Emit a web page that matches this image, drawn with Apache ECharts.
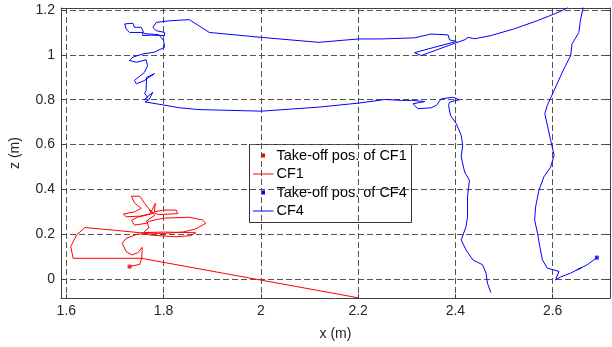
<!DOCTYPE html>
<html>
<head>
<meta charset="utf-8">
<script src="https://cdn.jsdelivr.net/npm/echarts@6.0.0/dist/echarts.min.js"></script>
<style>
  html,body{margin:0;padding:0;background:#fff}
  #chart{width:612px;height:347px}
</style>
</head>
<body>
<div id="chart"></div>
<script>
// === Datos (x, z en metros) ===
const X_TICKS = [1.6, 1.8, 2.0, 2.2, 2.4, 2.6];
const Z_TICKS = [0, 0.2, 0.4, 0.6, 0.8, 1.0, 1.2];
const X_RANGE = [1.589, 2.718];
const Z_RANGE = [-0.084, 1.209];

const CF1_TAKEOFF = [[1.730, 0.056]];
const CF4_TAKEOFF = [[2.691, 0.096]];

const CF1_PATH = [
  [1.730,0.056],[1.751,0.066],[1.755,0.095],[1.756,0.142],[1.747,0.118],[1.735,0.108],
  [1.723,0.123],[1.715,0.160],[1.723,0.182],[1.745,0.200],[1.770,0.205],[1.800,0.204],
  [1.840,0.210],[1.866,0.224],[1.887,0.249],[1.880,0.264],[1.853,0.276],[1.800,0.272],
  [1.770,0.258],[1.764,0.249],[1.740,0.241],[1.734,0.262],[1.745,0.275],[1.772,0.290],
  [1.783,0.338],[1.781,0.300],[1.798,0.308],[1.826,0.308],[1.829,0.292],[1.790,0.288],
  [1.775,0.300],[1.761,0.338],[1.751,0.370],[1.734,0.370],[1.740,0.340],[1.754,0.316],
  [1.740,0.300],[1.717,0.290],[1.723,0.278],[1.751,0.281],[1.778,0.293],[1.770,0.310],
  [1.782,0.285],[1.765,0.260],[1.770,0.230],[1.760,0.212],[1.770,0.197],[1.826,0.189],
  [1.856,0.194],[1.866,0.207],[1.800,0.210],[1.751,0.207],[1.700,0.218],[1.638,0.230],
  [1.621,0.197],[1.609,0.145],[1.614,0.093],[1.754,0.093],[2.200,-0.083]
];

const CF4_PATH = [
  [2.691,0.096],[2.671,0.064],[2.650,0.041],[2.660,0.052],[2.637,0.027],[2.616,0.009],
  [2.606,-0.003],[2.613,0.034],[2.603,0.041],[2.589,0.049],[2.579,0.086],[2.575,0.130],
  [2.569,0.204],[2.563,0.264],[2.565,0.323],[2.572,0.397],[2.582,0.456],[2.596,0.500],
  [2.603,0.552],[2.596,0.619],[2.590,0.678],[2.584,0.738],[2.589,0.775],[2.603,0.841],
  [2.620,0.923],[2.637,0.997],[2.640,1.049],[2.654,1.100],[2.657,1.152],[2.662,1.204],
  [2.664,1.230],[2.640,1.232],[2.628,1.206],[2.603,1.182],[2.568,1.152],[2.521,1.116],
  [2.473,1.086],[2.440,1.072],[2.426,1.078],[2.420,1.068],[2.385,1.041],[2.330,0.997],
  [2.316,1.010],[2.402,1.060],[2.405,1.067],[2.388,1.067],[2.385,1.089],[2.350,1.093],
  [2.316,1.076],[2.248,1.071],[2.201,1.071],[2.119,1.056],[2.001,1.078],[1.894,1.100],
  [1.853,1.157],[1.812,1.152],[1.785,1.145],[1.778,1.123],[1.785,1.108],[1.802,1.100],
  [1.802,1.086],[1.775,1.088],[1.757,1.086],[1.757,1.100],[1.730,1.100],[1.723,1.116],
  [1.720,1.138],[1.737,1.141],[1.740,1.123],[1.754,1.123],[1.760,1.095],[1.790,1.090],
  [1.800,1.064],[1.802,1.034],[1.781,1.012],[1.757,1.004],[1.737,0.990],[1.730,0.975],
  [1.744,0.967],[1.764,0.978],[1.767,0.952],[1.761,0.923],[1.740,0.886],[1.744,0.871],
  [1.760,0.885],[1.781,0.916],[1.765,0.900],[1.764,0.841],[1.761,0.827],[1.767,0.812],
  [1.760,0.800],[1.778,0.834],[1.770,0.800],[1.762,0.790],[1.785,0.782],[1.833,0.764],
  [1.873,0.756],[2.001,0.749],[2.119,0.767],[2.201,0.785],[2.255,0.801],[2.289,0.797],
  [2.310,0.797],[2.337,0.792],[2.313,0.782],[2.323,0.760],[2.350,0.764],[2.361,0.775],
  [2.371,0.804],[2.395,0.811],[2.408,0.800],[2.388,0.789],[2.386,0.775],[2.390,0.730],
  [2.402,0.693],[2.412,0.641],[2.415,0.597],[2.412,0.545],[2.419,0.478],[2.429,0.441],
  [2.425,0.367],[2.425,0.278],[2.422,0.234],[2.412,0.175],[2.422,0.130],[2.436,0.086],
  [2.456,0.064],[2.463,0.027],[2.466,-0.018],[2.473,-0.060]
];

const LEGEND = ['Take-off pos. of CF1', 'CF1', 'Take-off pos. of CF4', 'CF4'];

// === Estilo ===
const red = '#ff0000', blue = '#0000ff', axisC = '#404040', gridC = '#555555';
const FONT = '"Liberation Sans", Arial, sans-serif';
const fmt = v => String(+(+v).toFixed(1));

const mainX = {
  type:'value', min:X_RANGE[0], max:X_RANGE[1], position:'bottom',
  name:'x (m)', nameLocation:'middle', nameGap:29,
  nameTextStyle:{ color:'#262626', fontSize:14, fontFamily:FONT },
  axisLine:{ show:true, onZero:false, lineStyle:{ color:axisC } },
  axisTick:{ show:true, inside:true, length:4, customValues:X_TICKS, lineStyle:{ color:axisC } },
  axisLabel:{ customValues:X_TICKS, formatter:fmt, color:'#262626', fontSize:14, fontFamily:FONT, margin:6 },
  splitLine:{ show:true, lineStyle:{ color:gridC, type:[6,3], width:1 } }
};
const mainY = {
  type:'value', min:Z_RANGE[0], max:Z_RANGE[1], position:'left',
  name:'z (m)', nameLocation:'middle', nameGap:39, nameRotate:90,
  nameTextStyle:{ color:'#262626', fontSize:14, fontFamily:FONT },
  axisLine:{ show:true, onZero:false, lineStyle:{ color:axisC } },
  axisTick:{ show:true, inside:true, length:4, customValues:Z_TICKS, lineStyle:{ color:axisC } },
  axisLabel:{ customValues:Z_TICKS, formatter:fmt, color:'#262626', fontSize:14, fontFamily:FONT, margin:6 },
  splitLine:{ show:true, lineStyle:{ color:gridC, type:[6,3], width:1 } }
};
// ejes espejo (caja tipo matlab)
const mirror = (base, pos) => ({
  ...base, position:pos, name:'', axisLabel:{ show:false }, splitLine:{ show:false }
});

// leyenda dibujada a mano (marcador pequeño + linea)
function legendBox(){
  const rows = LEGEND.map((name, i) => {
    const y = 11 + i * 18.5;
    const isDot = i % 2 === 0;
    const c = i < 2 ? red : blue;
    const icon = isDot
      ? { type:'rect', shape:{ x:11.5, y:y-2, width:4, height:4 }, style:{ fill:c } }
      : { type:'line', shape:{ x1:3.5, y1:y, x2:24, y2:y }, style:{ stroke:c, lineWidth:1 } };
    return [icon, { type:'text', x:27, y:y, style:{ text:name, fill:'#000', fontSize:14.5,
      fontFamily:FONT, verticalAlign:'middle', align:'left' } }];
  }).flat();
  return [{
    type:'group', left:249, top:144, z:100,
    children:[{ type:'rect', shape:{ x:0, y:0, width:162, height:78 },
      style:{ fill:'#fff', stroke:'#333', lineWidth:1 } }, ...rows]
  }];
}

const option = {
  animation:false,
  grid:{ left:57, top:8, right:2, bottom:49, show:false },
  xAxis:[ mainX, mirror(mainX, 'top') ],
  yAxis:[ mainY, mirror(mainY, 'right') ],
  series:[
    { name:LEGEND[0], type:'scatter', data:CF1_TAKEOFF, symbol:'rect', symbolSize:4,
      itemStyle:{ color:red }, z:5 },
    { name:LEGEND[1], type:'line', data:CF1_PATH, showSymbol:false, clip:true,
      lineStyle:{ color:red, width:1 }, z:3 },
    { name:LEGEND[2], type:'scatter', data:CF4_TAKEOFF, symbol:'rect', symbolSize:4,
      itemStyle:{ color:blue }, z:5 },
    { name:LEGEND[3], type:'line', data:CF4_PATH, showSymbol:false, clip:true,
      lineStyle:{ color:blue, width:1 }, z:3 }
  ],
  graphic: legendBox()
};

const chart = echarts.init(document.getElementById('chart'), null, { renderer:'canvas' });
chart.setOption(option);
</script>
</body>
</html>
